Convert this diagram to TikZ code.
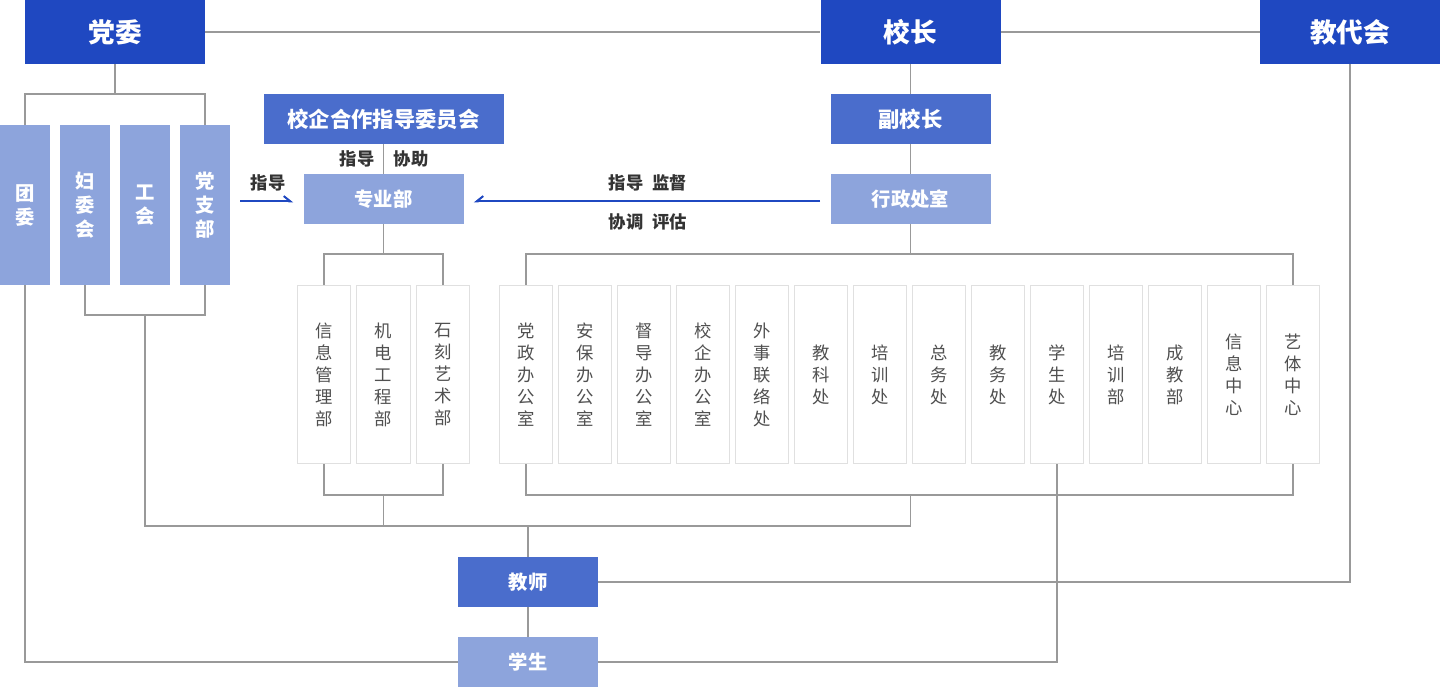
\documentclass[tikz,border=0pt]{standalone}
\usepackage{fontspec}
\setmainfont{Noto Sans CJK SC}
\usetikzlibrary{arrows.meta}
\definecolor{cdark}{RGB}{31,72,193}
\definecolor{cmed}{RGB}{74,109,204}
\definecolor{clite}{RGB}{141,164,220}
\definecolor{clink}{RGB}{153,153,153}
\definecolor{cobord}{RGB}{224,224,224}
\definecolor{ctext}{RGB}{80,80,80}
\definecolor{clbl}{RGB}{51,51,51}
\begin{document}
\begin{tikzpicture}[x=0.75pt,y=-0.75pt,
  box/.style={inner sep=0pt, text=white},
  topbox/.style={box, fill=cdark, minimum width=135pt, minimum height=48pt, font=\fontsize{20}{24}\selectfont\bfseries},
  midbox/.style={box, fill=cmed, minimum height=37.5pt, font=\fontsize{16}{20}\selectfont\bfseries},
  litebox/.style={box, fill=clite, minimum height=37.5pt, font=\fontsize{14.5}{18}\selectfont\bfseries},
  vbox/.style={box, fill=clite, minimum width=37.5pt, minimum height=120pt, align=center, font=\fontsize{14.5}{18}\selectfont\bfseries},
  obox/.style={inner sep=0pt, draw=cobord, line width=0.6pt, fill=white, minimum width=40pt, minimum height=134pt, align=center, text=ctext, font=\fontsize{13}{16.5}\selectfont},
  lbl/.style={inner sep=0pt, text=clbl, font=\fontsize{13}{16}\selectfont\bfseries},
  link/.style={draw=clink, line width=0.8pt},
  barrow/.style={draw=cdark, line width=1.5pt, shorten <=7.5pt, shorten >=7.5pt}
]
\useasboundingbox (0,0) rectangle (1440,687);

% top row
\node[topbox] (dw) at (115,32) {党委};
\node[topbox] (xz) at (910.5,32) {校长};
\node[topbox] (jdh) at (1350,32) {教代会};

% left vertical boxes
\node[vbox] (tw) at (25,205) {团\\委};
\node[vbox] (fwh) at (85,205) {妇\\委\\会};
\node[vbox] (gh) at (145,205) {工\\会};
\node[vbox] (dzb) at (205,205) {党\\支\\部};

% middle
\node[midbox, minimum width=180pt] (xq) at (383.5,119) {校企合作指导委员会};
\node[litebox, minimum width=120pt] (zyb) at (383.5,199) {专业部};
\node[midbox, minimum width=120pt] (fxz) at (910.5,119) {副校长};
\node[litebox, minimum width=120pt] (xzcs) at (910.5,199) {行政处室};

% departments
\node[obox] (d1) at (324,374.5) {信\\息\\管\\理\\部};
\node[obox] (d2) at (383.5,374.5) {机\\电\\工\\程\\部};
\node[obox] (d3) at (443,374.5) {石\\刻\\艺\\术\\部};

% offices
\foreach \t [count=\i from 0] in {{党\\政\\办\\公\\室},{安\\保\\办\\公\\室},{督\\导\\办\\公\\室},{校\\企\\办\\公\\室},{外\\事\\联\\络\\处},{教\\科\\处},{培\\训\\处},{总\\务\\处},{教\\务\\处},{学\\生\\处},{培\\训\\部},{成\\教\\部},{信\\息\\中\\心},{艺\\体\\中\\心}}{
  \pgfmathtruncatemacro{\k}{\i+1}
  \node[obox] (o\k) at ({526+59*\i},374.5) {\t};
}

% teacher / student
\node[midbox, minimum width=105pt, font=\fontsize{14.5}{18}\selectfont\bfseries] (js) at (528,582) {教师};
\node[litebox, minimum width=105pt] (xs) at (528,662) {学生};

% labels
\node[lbl] (l1) at (357,159) {指导};
\node[lbl] (l2) at (411,159) {协助};
\node[lbl] (l3) at (268,183) {指导};
\node[lbl] (l4) at (648,183) {指导\hspace{7pt}监督};
\node[lbl] (l5) at (648,222) {协调\hspace{7pt}评估};

% coordinates
\coordinate (lb) at (145,315);
\coordinate (hj) at (910.5,526);
\coordinate (dt) at (383.5,254);
\coordinate (db) at (383.5,495);
\coordinate (ot) at (910.5,254);
\coordinate (ob) at (910.5,495);
\coordinate (dwj) at (115,94);

% top links
\draw[link] (dw.east) -- (xz.west);
\draw[link] (xz.east) -- (jdh.west);
\draw[link] (dw.south) -- (dwj);
\draw[link] (tw.north) |- (dwj) -| (dzb.north);
\draw[link] (fwh.south) |- (lb) -| (dzb.south);
\draw[link] (lb) |- (hj) -- (ob);

% school head chain
\draw[link] (xz.south) -- (fxz.north);
\draw[link] (fxz.south) -- (xzcs.north);
\draw[link] (xzcs.south) -- (ot);
\draw[link] (o1.north) |- (ot) -| (o14.north);
\draw[link] (o1.south) |- (ob) -| (o14.south);

% 专业部
\draw[link, line width=0.6pt] (xq.south) -- (zyb.north);
\draw[link] (zyb.south) -- (dt);
\draw[link] (d1.north) |- (dt) -| (d3.north);
\draw[link] (d1.south) |- (db) -| (d3.south);
\draw[link] (db) -- (db |- hj);

% teacher/student links
\draw[link] (js.north |- hj) -- (js.north);
\draw[link] (js.south) -- (xs.north);
\draw[link] (js.east) -| (jdh.south);
\draw[link] (tw.south) |- (xs.west);
\draw[link] (o10.south) |- (xs.east);

% blue arrows
\draw[barrow, -{Straight Barb[left, length=5pt, width=8pt]}] ([yshift=-1.8pt]zyb.west -| dzb.east) -- ([yshift=-1.8pt]zyb.west);
\draw[barrow, -{Straight Barb[right, length=5pt, width=8pt]}] ([yshift=-1.8pt]xzcs.west) -- ([yshift=-1.8pt]zyb.east);
\end{tikzpicture}
\end{document}
